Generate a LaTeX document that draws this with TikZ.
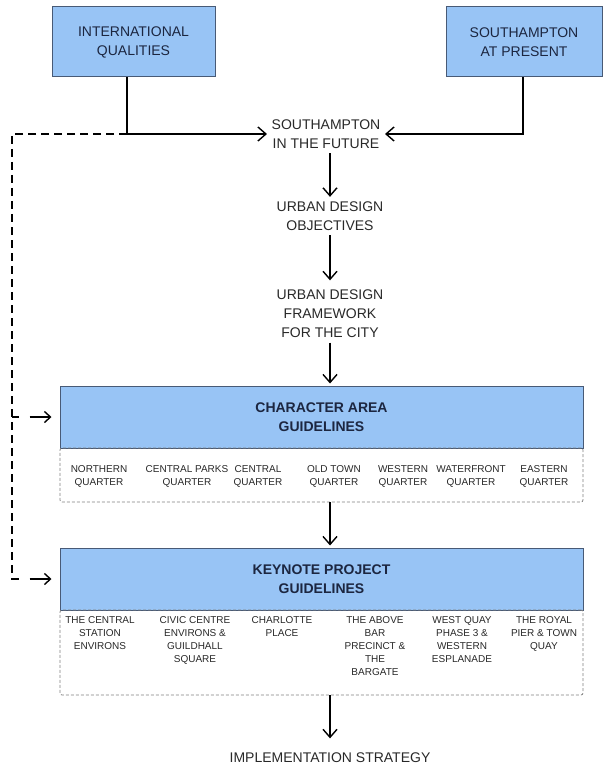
\documentclass[tikz,border=0pt]{standalone}
\usepackage{fontspec}
\setmainfont{Liberation Sans}
\usepackage{tikz}
\usetikzlibrary{arrows.meta}
\newcommand\SP{330}
\definecolor{boxfill}{RGB}{152,196,245}
\definecolor{boxline}{RGB}{72,90,118}
\definecolor{titlecol}{RGB}{28,38,64}
\definecolor{textcol}{RGB}{40,40,40}

\begin{document}
\begin{tikzpicture}[x=1pt,y=-1pt,->,>={Straight Barb[length=8pt,width=14pt]},
                    line width=1.4pt,font=\fontsize{14}{19}\selectfont]

  \tikzstyle{head}=[draw=boxline,fill=boxfill,line width=1pt,align=center,text=titlecol]
  \tikzstyle{stage}=[align=center,text=textcol,inner sep=4pt]
  \tikzstyle{list}=[draw=gray,densely dashed,line width=0.8pt,rounded corners=2pt,
                    minimum width=523pt]
  \tikzstyle{item}=[align=center,text=textcol,inner sep=1pt,
                    font=\fontsize{10}{13}\selectfont]
  \tikzstyle{fback}=[-,dash pattern=on 8pt off 5pt]
  \tikzstyle{fbtip}=[->,>={Straight Barb[length=6pt,width=11pt]},shorten >=8pt]

  \useasboundingbox (0,0) rectangle (606,767);

  \node[head,minimum width=163pt,minimum height=70pt] (IQ)  at (133.5,42) {INTERNATIONAL\\QUALITIES};
  \node[head,minimum width=156pt,minimum height=70pt] (SAP) at (524,42)   {SOUTHAMPTON\\AT PRESENT};
  \node[stage] (fut) at (326,134) {SOUTHAMPTON\\IN THE FUTURE};
  \node[stage] (obj) at (\SP,216)  {URBAN DESIGN\\OBJECTIVES};
  \node[stage] (fw)  at (\SP,314)  {URBAN DESIGN\\FRAMEWORK\\FOR THE CITY};

  \node[head,font=\fontsize{14}{19}\bfseries,minimum width=523pt,minimum height=62pt] (CA) at (321.5,417) {CHARACTER AREA\\GUIDELINES};
  \node[list,minimum height=54pt] (CAl) at (321.5,475) {};
  \node[head,font=\fontsize{14}{19}\bfseries,minimum width=523pt,minimum height=62pt] (KP) at (321.5,579) {KEYNOTE PROJECT\\GUIDELINES};
  \node[list,minimum height=85pt] (KPl) at (321.5,652.5) {};
  \node[stage] (impl) at (\SP,758) {IMPLEMENTATION STRATEGY};

  % character areas
  \node[item] (nq) at (99,476)  {NORTHERN\\QUARTER};
  \node[item] (cp) at (187,476) {CENTRAL PARKS\\QUARTER};
  \node[item] (cq) at (258,476) {CENTRAL\\QUARTER};
  \node[item] (ot) at (334,476) {OLD TOWN\\QUARTER};
  \node[item] (wq) at (403,476) {WESTERN\\QUARTER};
  \node[item] (wf) at (471,476) {WATERFRONT\\QUARTER};
  \node[item] (eq) at (544,476) {EASTERN\\QUARTER};

  % keynote projects
  \node[item,anchor=north] (cs) at (100,615) {THE CENTRAL\\STATION\\ENVIRONS};
  \node[item,anchor=north] (cc) at (195,615) {CIVIC CENTRE\\ENVIRONS \&\\GUILDHALL\\SQUARE};
  \node[item,anchor=north] (ch) at (282,615) {CHARLOTTE\\PLACE};
  \node[item,anchor=north] (ab) at (375,615) {THE ABOVE\\BAR\\PRECINCT \&\\THE\\BARGATE};
  \node[item,anchor=north] (wq3) at (462,615) {WEST QUAY\\PHASE 3 \&\\WESTERN\\ESPLANADE};
  \node[item,anchor=north] (rp) at (544,615) {THE ROYAL\\PIER \& TOWN\\QUAY};

  \coordinate (jl) at (127,134);
  \coordinate (jr) at (523,134);
  \coordinate (fb) at (12,134);
  \coordinate (cain) at ([xshift=-30pt]CA.west);
  \coordinate (kpin) at ([xshift=-30pt]KP.west);

  \draw[-] (IQ.south -| jl) -- (jl);
  \draw (jl) -- (fut);
  \draw (SAP.south -| jr) |- (fut);

  \path
  (fut.south -| obj) edge (obj)
  (obj) edge [shorten >=5pt] (fw)
  (fw)  edge [shorten >=2pt] (fw |- CA.north)
  (CAl.south -| fw) edge [shorten >=2pt] (KP.north -| fw)
  (KPl.south -| fw) edge [shorten >=10pt] (impl)
  ;

  % feedback
  \draw[fback] (jl) -- (fb) -- (fb |- KP.west) -- ++(7,0);
  \draw[fback] (fb |- CA.west) -- ++(7,0);
  \draw[fbtip] (cain) -- (CA.west);
  \draw[fbtip] (kpin) -- (KP.west);
\end{tikzpicture}
\end{document}
